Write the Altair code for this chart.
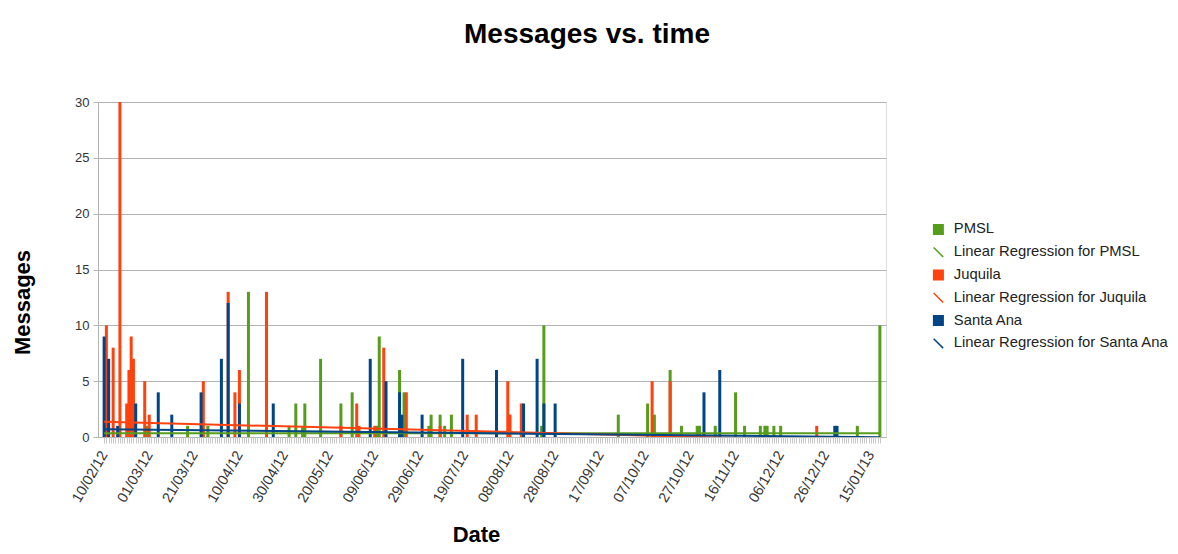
import altair as alt
import pandas as pd

FONT = "Liberation Sans"

series_names = ["PMSL", "Juquila", "Santa Ana"]
series_colors = ["#579d1c", "#ff420e", "#004586"]

pmsl_dates = ["2012-02-29", "2012-03-18", "2012-03-27", "2012-04-14", "2012-05-02", "2012-05-05",
              "2012-05-08", "2012-05-09", "2012-05-16", "2012-05-25", "2012-05-30", "2012-06-10",
              "2012-06-11", "2012-06-20", "2012-06-22", "2012-07-03", "2012-07-04", "2012-07-08",
              "2012-07-10", "2012-07-13", "2012-08-22", "2012-08-23", "2012-09-25", "2012-10-08",
              "2012-10-11", "2012-10-18", "2012-10-23", "2012-10-30", "2012-10-31", "2012-11-07",
              "2012-11-16", "2012-11-20", "2012-11-27", "2012-11-29", "2012-11-30", "2012-12-03",
              "2012-12-06", "2013-01-09", "2013-01-19"]
pmsl_values = [1, 1, 1, 13, 1, 3, 1, 3, 7, 3, 4, 1, 9, 6, 4, 1, 2, 2, 1, 2, 1, 10, 2, 3, 2, 6,
               1, 1, 1, 1, 4, 1, 1, 1, 1, 1, 1, 1, 10]

juquila_dates = ["2012-02-11", "2012-02-14", "2012-02-17", "2012-02-20", "2012-02-21", "2012-02-22",
                 "2012-02-23", "2012-02-28", "2012-03-01", "2012-03-25", "2012-04-05", "2012-04-08",
                 "2012-04-10", "2012-04-22", "2012-05-25", "2012-06-01", "2012-06-02", "2012-06-09",
                 "2012-06-13", "2012-06-23", "2012-07-08", "2012-07-20", "2012-07-24", "2012-08-07",
                 "2012-08-08", "2012-08-13", "2012-10-10", "2012-10-18", "2012-12-22"]
juquila_values = [10, 8, 30, 3, 6, 9, 7, 5, 2, 5, 13, 4, 6, 13, 1, 3, 1, 1, 8, 4, 1, 2, 2, 5, 2,
                  3, 5, 5, 1]

santa_ana_dates = ["2012-02-10", "2012-02-12", "2012-02-16", "2012-02-24", "2012-03-05", "2012-03-11",
                   "2012-03-24", "2012-04-02", "2012-04-05", "2012-04-10", "2012-04-25", "2012-06-07",
                   "2012-06-14", "2012-06-20", "2012-06-21", "2012-06-30", "2012-07-18", "2012-08-02",
                   "2012-08-14", "2012-08-20", "2012-08-23", "2012-08-28", "2012-11-02", "2012-11-09",
                   "2012-12-30", "2012-12-31"]
santa_ana_values = [9, 7, 1, 3, 4, 2, 4, 7, 12, 3, 3, 7, 5, 4, 2, 2, 7, 6, 3, 7, 3, 3, 4, 6, 1, 1]

first_day = "2012-02-10"
last_day = "2013-01-19"
tick_every = 20

legend_names = ["PMSL", "Linear Regression for PMSL",
                "Juquila", "Linear Regression for Juquila",
                "Santa Ana", "Linear Regression for Santa Ana"]
legend_colors = ["#579d1c", "#579d1c", "#ff420e", "#ff420e", "#004586", "#004586"]
legend_shapes = ["square", "M-1,-1L1,1"] * 3

# ---- build tables ----
EPOCH = pd.Timestamp("1970-01-01")
DAY_MS = 86400000


def to_ms(d):
    return int((pd.Timestamp(d) - EPOCH) // pd.Timedelta("1ms"))


days = pd.date_range(first_day, last_day, freq="D")
day_ms = [to_ms(d) for d in days]
major_ms = day_ms[::tick_every]
t0 = day_ms[0]

raw = {
    "PMSL": dict(zip(pmsl_dates, pmsl_values)),
    "Juquila": dict(zip(juquila_dates, juquila_values)),
    "Santa Ana": dict(zip(santa_ana_dates, santa_ana_values)),
}
rows = []
for s in series_names:
    vals = {to_ms(k): v for k, v in raw[s].items()}
    for t in day_ms:
        rows.append({"series": s, "t": t, "value": vals.get(t, 0)})
full = pd.DataFrame(rows)
bars_df = full[full["value"] > 0].reset_index(drop=True)

legend_df = pd.DataFrame({"name": legend_names, "t": [t0 - 40 * DAY_MS] * 6, "value": [0] * 6})

x_scale = alt.Scale(type="utc", domain=[t0 - DAY_MS // 2, day_ms[-1] + DAY_MS // 2], nice=False)

major_axis = alt.Axis(
    orient="bottom", values=major_ms, labelExpr="utcFormat(datum.value, '%d/%m/%y')",
    labelAngle=300, labelAlign="right", labelBaseline="middle",
    labelOverlap=False, labelFlush=False, labelBound=False,
    labelFont=FONT, labelFontSize=14.5, labelColor="#333333", labelPadding=9,
    tickSize=6, tickColor="#c8c8c8", tickWidth=1,
    domainColor="#b3b3b3", grid=False,
    title="Date", titleFont=FONT, titleFontSize=22, titleFontWeight="bold", titleColor="#000000",
    titleX=378, titleY=104, titleBaseline="alphabetic", titleAlign="center",
)
minor_axis = alt.Axis(
    orient="bottom", values=day_ms, labels=False, domain=False, grid=False,
    tickSize=6, tickColor="#c8c8c8", tickWidth=1, title=None,
)

y_enc = alt.Y(
    "value:Q",
    stack=None,
    scale=alt.Scale(domain=[0, 30], nice=False),
    axis=alt.Axis(
        values=[0, 5, 10, 15, 20, 25, 30],
        grid=True, gridColor="#b3b3b3", domainColor="#b3b3b3", tickColor="#b3b3b3", tickSize=5,
        labelFont=FONT, labelFontSize=13, labelColor="#333333", labelPadding=4,
        title="Messages", titleFont=FONT, titleFontSize=22, titleFontWeight="bold", titleColor="#000000",
        titleAngle=270, titleX=-69, titleY=200, titleBaseline="alphabetic", titleAlign="center",
    ),
)
color_scale = alt.Scale(domain=series_names, range=series_colors)

bars = alt.Chart(bars_df).mark_bar(size=3).encode(
    x=alt.X("t:T", scale=x_scale, axis=major_axis),
    y=y_enc,
    color=alt.Color("series:N", scale=color_scale, legend=None),
)

reg = alt.Chart(full).transform_regression(
    "t", "value", groupby=["series"], method="linear"
).mark_line(strokeWidth=2, clip=True).encode(
    x=alt.X("t:T", scale=x_scale, axis=minor_axis),
    y=alt.Y("value:Q"),
    color=alt.Color("series:N", scale=color_scale, legend=None),
)

leg = alt.Legend(
    title=None, orient="none", legendX=833, legendY=120,
    labelFont=FONT, labelFontSize=14.8, labelColor="#222222", labelOffset=8, labelLimit=0,
    symbolSize=90, symbolStrokeWidth=1.5, rowPadding=5.8, padding=0,
)
legend_layer = alt.Chart(legend_df).mark_point(filled=True, opacity=1, clip=True).encode(
    x=alt.X("t:T", axis=None),
    y=alt.Y("value:Q"),
    fill=alt.Fill("name:N", scale=alt.Scale(domain=legend_names, range=legend_colors), legend=leg),
    stroke=alt.Stroke("name:N", scale=alt.Scale(domain=legend_names, range=legend_colors), legend=leg),
    shape=alt.Shape("name:N", scale=alt.Scale(domain=legend_names, range=legend_shapes), legend=leg),
)

chart = alt.layer(bars, reg, legend_layer).resolve_axis(x="independent").properties(
    width=788, height=335,
    title=alt.TitleParams(
        "Messages vs. time", font=FONT, fontSize=28, fontWeight="bold", color="#000000",
        anchor="middle", dx=95, offset=25, baseline="alphabetic",
    ),
    autosize=alt.AutoSizeParams(type="none"),
    padding={"left": 90, "top": 94, "right": 284, "bottom": 109},
).configure_view(stroke="#b3b3b3").configure(background="white")

chart.save("out.html", embed_options={"renderer": "svg", "actions": False})
